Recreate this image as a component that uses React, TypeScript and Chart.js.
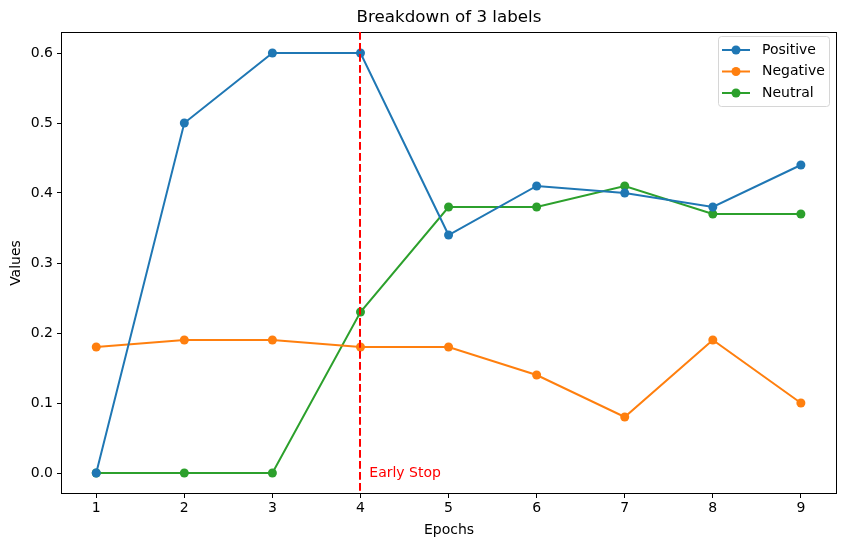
import { Chart, registerables } from 'chart.js';
import React, { useEffect, useRef } from 'react';

Chart.register(...registerables);

const epochs = [1, 2, 3, 4, 5, 6, 7, 8, 9];
const positive = [0, 0.5, 0.6, 0.6, 0.34, 0.41, 0.4, 0.38, 0.44];
const negative = [0.18, 0.19, 0.19, 0.18, 0.18, 0.14, 0.08, 0.19, 0.1];
const neutral = [0, 0, 0, 0.23, 0.38, 0.38, 0.41, 0.37, 0.37];
const seriesNames = ['Positive', 'Negative', 'Neutral'];
const yTicks = [0, 0.1, 0.2, 0.3, 0.4, 0.5, 0.6];
const earlyStopEpoch = 4;

const colors = ['#1f77b4', '#ff7f0e', '#2ca02c'];
const FONT = '"DejaVu Sans", sans-serif';

const overlay = {
  id: 'overlay',
  afterDraw(chart: any) {
    const { ctx, chartArea: a, scales } = chart;
    ctx.save();

    // frame
    ctx.strokeStyle = '#000';
    ctx.lineWidth = 1;
    ctx.strokeRect(a.left + 0.5, a.top + 0.5, a.right - a.left - 1, a.bottom - a.top - 1);

    // early stop line
    const xs = Math.round(scales.x.getPixelForValue(earlyStopEpoch));
    ctx.strokeStyle = '#ff0000';
    ctx.lineWidth = 2;
    ctx.setLineDash([7.7, 3.3]);
    ctx.beginPath();
    ctx.moveTo(xs, a.top);
    ctx.lineTo(xs, a.bottom);
    ctx.stroke();
    ctx.setLineDash([]);

    ctx.fillStyle = '#ff0000';
    ctx.font = `14px ${FONT}`;
    ctx.textAlign = 'left';
    ctx.textBaseline = 'middle';
    ctx.fillText('Early Stop', scales.x.getPixelForValue(earlyStopEpoch + 0.1), scales.y.getPixelForValue(0));

    // title and axis titles
    ctx.fillStyle = '#000';
    ctx.font = `16.7px ${FONT}`;
    ctx.textAlign = 'center';
    ctx.textBaseline = 'middle';
    ctx.fillText('Breakdown of 3 labels', (a.left + a.right) / 2, 18);
    ctx.font = `14px ${FONT}`;
    ctx.fillText('Epochs', (a.left + a.right) / 2, 530);
    ctx.save();
    ctx.translate(16, (a.top + a.bottom) / 2);
    ctx.rotate(-Math.PI / 2);
    ctx.fillText('Values', 0, 0);
    ctx.restore();

    // legend
    const lx = 718;
    const ly = 36;
    const lw = 111;
    const lh = 70;
    ctx.fillStyle = 'rgba(255,255,255,0.8)';
    ctx.strokeStyle = '#d6d6d6';
    ctx.lineWidth = 1;
    ctx.beginPath();
    ctx.roundRect(lx + 0.5, ly + 0.5, lw, lh, 3);
    ctx.fill();
    ctx.stroke();
    seriesNames.forEach((name, i) => {
      const y = 50 + i * 21.5;
      ctx.strokeStyle = colors[i];
      ctx.lineWidth = 2;
      ctx.beginPath();
      ctx.moveTo(722, y);
      ctx.lineTo(750, y);
      ctx.stroke();
      ctx.fillStyle = colors[i];
      ctx.beginPath();
      ctx.arc(736, y, 4.5, 0, Math.PI * 2);
      ctx.fill();
      ctx.fillStyle = '#000';
      ctx.textAlign = 'left';
      ctx.fillText(name, 762, y);
    });

    ctx.restore();
  },
};

const App: React.FC = () => {
  const chartRef = useRef<HTMLCanvasElement>(null);

  useEffect(() => {
    document.body.style.margin = '0';
    const ctx = chartRef.current?.getContext('2d');
    if (!ctx) return;

    const series = [positive, negative, neutral];
    const chart = new Chart(ctx, {
      type: 'line',
      data: {
        datasets: series.map((vals, i) => ({
          label: seriesNames[i],
          data: vals.map((v, j) => ({ x: epochs[j], y: v })),
          borderColor: colors[i],
          backgroundColor: colors[i],
          borderWidth: 2,
          pointRadius: 4.5,
          pointBorderWidth: 0,
          pointHoverRadius: 4.5,
          tension: 0,
        })),
      },
      options: {
        animation: false,
        responsive: false,
        events: [],
        layout: { padding: { left: 0, top: 32, right: 9, bottom: 0 } },
        plugins: {
          legend: { display: false },
          title: { display: false },
          tooltip: { enabled: false },
        },
        scales: {
          x: {
            type: 'linear',
            min: 0.6,
            max: 9.41,
            afterBuildTicks: (scale: any) => {
              scale.ticks = epochs.map((v) => ({ value: v }));
            },
            afterFit: (scale: any) => {
              scale.height = 53;
            },
            grid: { display: true, drawOnChartArea: false, drawTicks: true, tickLength: 4, tickColor: '#000' },
            border: { display: false },
            ticks: {
              color: '#000',
              font: { family: FONT, size: 14 },
              padding: 2,
              maxRotation: 0,
              callback: (v: any) => String(v),
            },
          },
          y: {
            type: 'linear',
            min: -0.03,
            max: 0.63,
            afterBuildTicks: (scale: any) => {
              scale.ticks = yTicks.map((v) => ({ value: v }));
            },
            afterFit: (scale: any) => {
              scale.width = 61;
            },
            grid: { display: true, drawOnChartArea: false, drawTicks: true, tickLength: 4, tickColor: '#000' },
            border: { display: false },
            ticks: {
              color: '#000',
              font: { family: FONT, size: 14 },
              padding: 4,
              callback: (v: any) => Number(v).toFixed(1),
            },
          },
        },
      },
      plugins: [overlay],
    });

    return () => {
      chart.destroy();
    };
  }, []);

  return <canvas ref={chartRef} width={846} height={547} style={{ display: 'block' }} />;
};

export default App;
